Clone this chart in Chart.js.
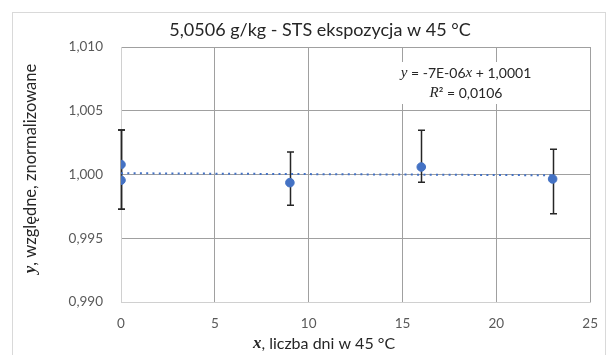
<!DOCTYPE html>
<html>
<head>
<meta charset="utf-8">
<script src="https://cdn.jsdelivr.net/npm/chart.js@4"></script>
<style>
  html, body { margin: 0; padding: 0; background: #fff; }
  #wrap { width: 612px; height: 355px; }
</style>
</head>
<body>
<div id="wrap"><canvas id="stsChart" width="612" height="355"></canvas></div>
<script>
// Measured points (days at 45 °C vs normalised relative value)
const xDays = [0, 0, 9, 16, 23];
const yValues = [1.00078, 0.99955, 0.99936, 1.00059, 0.99965];
// Error bar ends
const yErrLow = [0.99727, 0.99727, 0.99758, 0.99939, 0.99693];
const yErrHigh = [1.0035, 1.0035, 1.00176, 1.00347, 1.00198];

// Linear trendline as printed on the chart
const trendSlope = -7e-6;
const trendIntercept = 1.0001;
const trendRange = [0, 23];

const chartTitle = '5,0506 g/kg - STS ekspozycja w 45 °C';
const xTicks = [0, 5, 10, 15, 20, 25];
const yTicks = [0.990, 0.995, 1.000, 1.005, 1.010];

const blue = '#4472C4';
const sans = "Lato, 'Noto Sans', sans-serif";
const serif = "'Liberation Serif', 'DejaVu Serif', serif";

function drawRuns(ctx, runs, x, y) {
    // runs: [{text, font}], centred on x
    let total = 0;
    runs.forEach(r => { ctx.font = r.font; total += ctx.measureText(r.text).width; });
    let cx = x - total / 2;
    ctx.textAlign = 'left';
    ctx.textBaseline = 'middle';
    runs.forEach(r => {
        ctx.font = r.font;
        ctx.fillText(r.text, cx, y);
        cx += ctx.measureText(r.text).width;
    });
    return total;
}

const decorPlugin = {
    id: 'decor',
    beforeDraw(chart) {
        const ctx = chart.ctx;
        ctx.save();
        ctx.fillStyle = '#fff';
        ctx.fillRect(0, 0, chart.width, chart.height);
        ctx.strokeStyle = '#d9d9d9';
        ctx.lineWidth = 1;
        ctx.strokeRect(12.5, 12.5, 593, 360);
        ctx.restore();
    },
    beforeDatasetsDraw(chart) {
        const ctx = chart.ctx;
        const xs = chart.scales.x, ys = chart.scales.y;
        ctx.save();
        ctx.strokeStyle = '#262626';
        ctx.lineWidth = 1.5;
        xDays.forEach((d, i) => {
            const px = Math.round(xs.getPixelForValue(d)) + 0.5;
            const top = ys.getPixelForValue(yErrHigh[i]);
            const bot = ys.getPixelForValue(yErrLow[i]);
            ctx.beginPath();
            ctx.moveTo(px, top); ctx.lineTo(px, bot);
            ctx.moveTo(px - 3.5, top); ctx.lineTo(px + 3.5, top);
            ctx.moveTo(px - 3.5, bot); ctx.lineTo(px + 3.5, bot);
            ctx.stroke();
        });
        ctx.restore();
    },
    afterDraw(chart) {
        const ctx = chart.ctx;
        const area = chart.chartArea;
        ctx.save();
        ctx.fillStyle = '#262626';

        // chart title
        drawRuns(ctx, [{ text: chartTitle, font: '18px ' + sans }], 320, 30);

        // equation box
        const eqX = 466, eqY = 73;
        ctx.fillStyle = '#fff';
        ctx.fillRect(eqX - 76, eqY - 11, 152, 42);
        ctx.fillStyle = '#262626';
        drawRuns(ctx, [
            { text: 'y', font: 'italic 15px ' + serif },
            { text: ' = -7E-06', font: '14px ' + sans },
            { text: 'x', font: 'italic 15px ' + serif },
            { text: ' + 1,0001', font: '14px ' + sans }
        ], eqX, eqY);
        drawRuns(ctx, [
            { text: 'R', font: 'italic 15px ' + serif },
            { text: '² = 0,0106', font: '14px ' + sans }
        ], eqX, eqY + 20);

        // x axis title
        ctx.fillStyle = '#262626';
        drawRuns(ctx, [
            { text: 'x', font: 'italic bold 17px ' + serif },
            { text: ', liczba dni w 45 °C', font: '16px ' + sans }
        ], 324, 344);

        // y axis title (rotated)
        ctx.translate(31, (area.top + area.bottom) / 2 - 6);
        ctx.rotate(-Math.PI / 2);
        drawRuns(ctx, [
            { text: 'y', font: 'italic bold 17px ' + serif },
            { text: ', względne, znormalizowane', font: '16.5px ' + sans }
        ], 0, 0);
        ctx.restore();
    }
};

const trendData = trendRange.map(d => ({ x: d, y: trendIntercept + trendSlope * d }));

const config = {
    type: 'scatter',
    data: {
        datasets: [
            {
                label: 'trend',
                type: 'line',
                data: trendData,
                borderColor: blue,
                borderWidth: 2,
                borderDash: [2, 4.3],
                pointRadius: 0,
                fill: false,
                order: 2
            },
            {
                label: 'pomiar',
                data: xDays.map((d, i) => ({ x: d, y: yValues[i] })),
                backgroundColor: blue,
                borderColor: blue,
                pointRadius: 4.3,
                pointHoverRadius: 4.3,
                order: 1
            }
        ]
    },
    options: {
        responsive: false,
        animation: false,
        layout: { padding: { top: 47, right: 20, bottom: 0, left: 0 } },
        plugins: {
            legend: { display: false },
            tooltip: { enabled: false },
            title: { display: false }
        },
        scales: {
            x: {
                type: 'linear',
                min: 0,
                max: 25,
                afterBuildTicks: s => { s.ticks = xTicks.map(v => ({ value: v })); },
                afterFit: s => { s.height = 53; },
                grid: {
                    color: c => c.index === 0 ? '#d0d0d0' : '#a0a0a0',
                    lineWidth: 1,
                    drawTicks: false
                },
                border: { color: '#d0d0d0' },
                ticks: {
                    padding: 14,
                    color: '#595959',
                    font: { family: sans, size: 13.5 },
                    callback: v => String(v)
                }
            },
            y: {
                min: 0.990,
                max: 1.010,
                afterBuildTicks: s => { s.ticks = yTicks.map(v => ({ value: v })); },
                afterFit: s => { s.width = 121; },
                grid: {
                    color: '#a0a0a0',
                    lineWidth: 1,
                    drawTicks: false
                },
                border: { color: '#d0d0d0' },
                ticks: {
                    padding: 18,
                    color: '#595959',
                    font: { family: sans, size: 13.5 },
                    callback: v => v.toFixed(3).replace('.', ',')
                }
            }
        }
    },
    plugins: [decorPlugin]
};

new Chart(document.getElementById('stsChart').getContext('2d'), config);
</script>
</body>
</html>
